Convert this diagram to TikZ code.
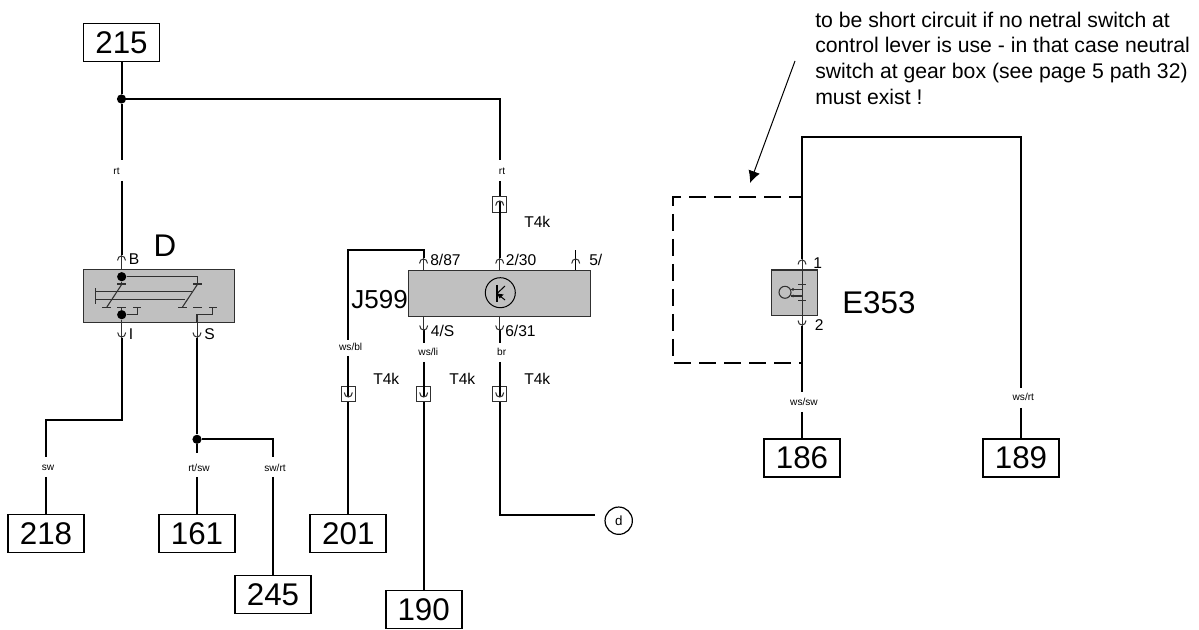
\documentclass[tikz,border=0pt]{standalone}
\usepackage{fontspec}
\setmainfont{Liberation Sans}
\usetikzlibrary{arrows.meta}
\definecolor{blockgray}{HTML}{C0C0C0}
\definecolor{inner}{HTML}{303030}
\tikzset{
  wire/.style={line width=1.5pt,black,line cap=butt,line join=miter},
  thinwire/.style={line width=.75pt,inner},
  symb/.style={line width=.8pt,inner},
  bar/.style={line width=1.1pt,inner},
  numbox/.style={draw=black,line width=1.3pt,fill=white,minimum width=57pt,minimum height=28.5pt,inner sep=0pt,font=\fontsize{23.5}{24}\selectfont},
  block/.style={draw=inner,line width=.8pt,fill=blockgray,inner sep=0pt},
  conn/.style={draw=inner,line width=.75pt,fill=white,minimum width=10.5pt,minimum height=11.5pt,inner sep=0pt},
  dot/.style={circle,fill=black,minimum size=6.9pt,inner sep=0pt},
  wlabel/.style={font=\fontsize{7.6}{8}\selectfont,text=black,inner sep=0pt},
  pinlabel/.style={font=\fontsize{11.7}{12}\selectfont,anchor=west,inner sep=0pt},
  biglabel/.style={inner sep=0pt},
}
\newcommand{\hoodup}[3][thinwire]{\draw[#1] ({#2-4},{#3+4.5}) .. controls ({#2-4},{#3-1.5}) and ({#2+4},{#3-1.5}) .. ({#2+4},{#3+4.5});}
\newcommand{\hooddown}[3][thinwire]{\draw[#1] ({#2-4},{#3-4.5}) .. controls ({#2-4},{#3+1.5}) and ({#2+4},{#3+1.5}) .. ({#2+4},{#3-4.5});}
\begin{document}
\begin{tikzpicture}[x=.75pt,y=-.75pt]
\useasboundingbox (0,0) rectangle (1199,630);

% --- terminal boxes
\node[numbox] (b215) at (121.5,42.5) {215};
\node[numbox] (b218) at (46,533.5) {218};
\node[numbox] (b161) at (197,533.5) {161};
\node[numbox] (b245) at (273,594.5) {245};
\node[numbox] (b201) at (348.3,533.5) {201};
\node[numbox] (b190) at (423.7,609.5) {190};
\node[numbox] (b186) at (802,458) {186};
\node[numbox] (b189) at (1021,458) {189};
\node[circle,draw=black,line width=.9pt,minimum size=20.5pt,inner sep=0pt,font=\fontsize{10}{11}\selectfont] (nd) at (618.7,520.7) {d};

% --- blocks
\node[block,minimum width=113.5pt,minimum height=39.8pt] (D) at (159.2,295.8) {};
\node[block,minimum width=136.5pt,minimum height=34.2pt] (J) at (499.7,293.3) {};
\node[block,minimum width=34pt,minimum height=34.2pt] (E) at (794.6,292.8) {};

% --- connector housings
\node[conn] (c1) at (499.7,204.5) {};
\node[conn] (c2) at (348.3,394.2) {};
\node[conn] (c3) at (423.7,394.2) {};
\node[conn] (c4) at (499.7,394.2) {};

% --- named points
\node[dot] (j1) at (121.5,99) {};
\node[dot] (j2) at (197,439.3) {};
\node[dot] (dtop) at (121.7,276.7) {};
\node[dot] (dbot) at (121.7,314.7) {};

\coordinate (g1a) at (121.5,160); \coordinate (g1b) at (121.5,181); \coordinate (pB) at (121.5,255);
\coordinate (r1) at (499.7,99); \coordinate (g2a) at (499.7,160); \coordinate (g2b) at (499.7,181);
\coordinate (p230) at (499.7,258);
\coordinate (pI) at (121.7,338); \coordinate (i1) at (121.7,420.5); \coordinate (i2) at (46,420.5);
\coordinate (g3a) at (46,457); \coordinate (g3b) at (46,477);
\coordinate (pS) at (197,338); \coordinate (g4a) at (197,453); \coordinate (g4b) at (197,477);
\coordinate (s1) at (273,439.3); \coordinate (g5a) at (273,457); \coordinate (g5b) at (273,477);
\coordinate (p887) at (423.5,258); \coordinate (k1) at (423.5,250); \coordinate (k2) at (348.3,250);
\coordinate (g6a) at (348.3,340); \coordinate (g6b) at (348.3,356);
\coordinate (p4S) at (423.7,330); \coordinate (g7a) at (423.7,343); \coordinate (g7b) at (423.7,362);
\coordinate (p631) at (499.7,330); \coordinate (g8a) at (499.7,343); \coordinate (g8b) at (499.7,362);
\coordinate (w1) at (499.7,515); \coordinate (w2) at (595,515);
\coordinate (e1) at (802,137); \coordinate (e2) at (1021,137); \coordinate (p1) at (802,259);
\coordinate (p2) at (802,326); \coordinate (g9a) at (802,392); \coordinate (g9b) at (802,412);
\coordinate (g10a) at (1021,388); \coordinate (g10b) at (1021,408);
\coordinate (dsh1) at (802,197); \coordinate (dsh2) at (673,197); \coordinate (dsh3) at (673,363); \coordinate (dsh4) at (802,363);
\coordinate (arrA) at (795,61); \coordinate (arrB) at (750,183);

% --- wires
\draw[wire] (b215.south) -- (j1) -- (g1a);
\draw[wire] (g1b) -- (pB);
\draw[wire] (j1) -- (r1) -- (g2a);
\draw[wire] (g2b) -- (c1.north);
\draw[wire] (499.7,201) -- (p230);
\draw[wire] (pI) -- (i1) -- (i2) -- (g3a);
\draw[wire] (g3b) -- (b218.north);
\draw[wire] (pS) -- (j2) -- (g4a);
\draw[wire] (g4b) -- (b161.north);
\draw[wire] (j2) -- (s1) -- (g5a);
\draw[wire] (g5b) -- (b245.north);
\draw[wire] (p887) -- (k1) -- (k2) -- (g6a);
\draw[wire] (g6b) -- (c2.north);
\draw[wire] (c2.south) -- (b201.north);
\draw[wire] (348.3,386) -- (348.3,397.5);
\draw[wire] (p4S) -- (g7a);
\draw[wire] (g7b) -- (423.7,397.5);
\draw[wire] (c3.south) -- (b190.north);
\draw[wire] (p631) -- (g8a);
\draw[wire] (g8b) -- (499.7,397.5);
\draw[wire] (c4.south) -- (w1) -- (w2);
\draw[wire] (p1) -- (e1) -- (e2) -- (g10a);
\draw[wire] (g10b) -- (b189.north);
\draw[wire] (p2) -- (g9a);
\draw[wire] (g9b) -- (b186.north);

% --- pin stubs (thin) and hoods
\draw[thinwire] (pB) -- (121.5,269);
\hoodup{121.5}{256}
\draw[thinwire] (p230) -- (499.7,270);
\hoodup{499.7}{259}
\draw[thinwire] (p887) -- (423.5,270);
\hoodup{423.5}{259}
\draw[wire,line width=1pt] (575.7,250.5) -- (575.7,270);
\hoodup{575.7}{259}
\draw[thinwire] (121.7,322) -- (pI);
\hooddown{121.7}{337}
\draw[thinwire] (197,322) -- (pS);
\hooddown{197}{337}
\draw[thinwire] (423.7,316) -- (p4S);
\hooddown{423.7}{330}
\draw[thinwire] (499.7,316) -- (p631);
\hooddown{499.7}{330}
\draw[thinwire] (p1) -- (p2);
\hoodup{802}{260}
\hooddown{802}{325}

% --- connector hoods
\hoodup[symb]{499.7}{201}
\hooddown[symb]{348.3}{397}
\hooddown[symb]{423.7}{397}
\hooddown[symb]{499.7}{397}

% --- switch D interior
\draw[symb] (dtop) -- (197.7,276.7) -- (197.7,284);
\draw[symb] (dtop) -- (121.7,284);
\draw[symb] (117.3,284) -- (126,284);
\draw[symb] (193.3,284) -- (201.7,284);
\draw[symb] (122,284) -- (106.7,307.3);
\draw[symb] (197.7,284) -- (182.3,307.3);
\draw[symb] (102.3,307.3) -- (110.7,307.3);
\draw[symb] (178.3,307.3) -- (186.7,307.3);
\draw[symb] (95.3,288.3) -- (95.3,304);
\draw[bar] (95.3,291.7) -- (191.5,291.7);
\draw[bar] (95.3,299.3) -- (185,299.3);
\draw[symb] (117.3,307.3) -- (126,307.3);
\draw[symb] (121.7,307.3) -- (dbot) -- (137.3,314.7) -- (137.3,307.3);
\draw[symb] (133.3,307.3) -- (140.7,307.3);
\draw[symb] (193.3,307.3) -- (201.7,307.3);
\draw[symb] (209.3,307.3) -- (216.7,307.3);
\draw[symb] (212.7,307.3) -- (212.7,314.7) -- (197,314.7) -- (197,322);
\draw[thinwire] (dbot) -- (121.7,322);

% --- J599 symbol
\draw[line width=.75pt,black] (500.3,292.7) circle[radius=15];
\draw[line width=1pt,black] (497,285) -- (497,301.7);
\draw[line width=.75pt,black] (505,286) -- (497,293.5) -- (505,300);
\fill[black] (497,293.5) -- (503.5,294.5) -- (499.5,298.5) -- cycle;

% --- E353 symbol
\draw[symb] (785,292.3) circle[radius=6];
\draw[bar] (791,289.3) -- (802,289.3);
\draw[bar] (791,296) -- (802,296);
\fill[inner] (793,289.3) circle[radius=1.5];
\fill[inner] (793,296) circle[radius=1.5];
\draw[symb] (798,284.3) -- (806,284.3);
\draw[symb] (798,300.3) -- (806,300.3);

% --- dashed bridge
\draw[line width=1.5pt,black,dash pattern=on 12.5pt off 6.25pt,dash phase=3pt] (dsh1) -- (dsh2) -- (dsh3) -- (dsh4);

% --- arrow and note
\draw[line width=.75pt,black,-{Latex[length=9pt,width=9pt]}] (arrA) -- (arrB);
\node[anchor=north west,align=left,inner sep=0pt,font=\fontsize{15.9}{19.3}\selectfont] (note) at (815,11.5) {to be short circuit if no netral switch at\\control lever is use - in that case neutral\\switch at gear box (see page 5 path 32)\\must exist !};

% --- labels
\node[wlabel] (l1) at (116.5,171) {rt};
\node[wlabel] (l2) at (502,171) {rt};
\node[wlabel] (l3) at (48,467.5) {sw};
\node[wlabel] (l4) at (199,467.5) {rt/sw};
\node[wlabel] (l5) at (275,467.5) {sw/rt};
\node[wlabel] (l6) at (350.7,346.7) {ws/bl};
\node[wlabel] (l7) at (428.3,351.7) {ws/li};
\node[wlabel] (l8) at (501.7,351.7) {br};
\node[wlabel] (l9) at (804,401.7) {ws/sw};
\node[wlabel] (l10) at (1023.3,397.3) {ws/rt};

\node[pinlabel] (tB) at (128.5,259.5) {B};
\node[pinlabel] (tI) at (128.5,334) {I};
\node[pinlabel] (tS) at (204,334) {S};
\node[pinlabel] (t887) at (430,260) {8/87};
\node[pinlabel] (t230) at (505.7,260) {2/30};
\node[pinlabel] (t5) at (589,260) {5/};
\node[pinlabel] (t4S) at (430.7,330.5) {4/S};
\node[pinlabel] (t631) at (505,330.5) {6/31};
\node[pinlabel] (t1) at (813,262.7) {1};
\node[pinlabel] (t2) at (814.5,325) {2};
\node[pinlabel] (tk1) at (524,221.7) {T4k};
\node[pinlabel] (tk2) at (373,379) {T4k};
\node[pinlabel] (tk3) at (449,379) {T4k};
\node[pinlabel] (tk4) at (524,379) {T4k};

\node[biglabel,font=\fontsize{23.5}{24}\selectfont] (tD) at (165,246) {D};
\node[biglabel,anchor=east,font=\fontsize{19.5}{20}\selectfont] (tJ) at (408,300) {J599};
\node[biglabel,anchor=west,font=\fontsize{23.5}{24}\selectfont] (tE) at (842,303) {E353};
\end{tikzpicture}
\end{document}
